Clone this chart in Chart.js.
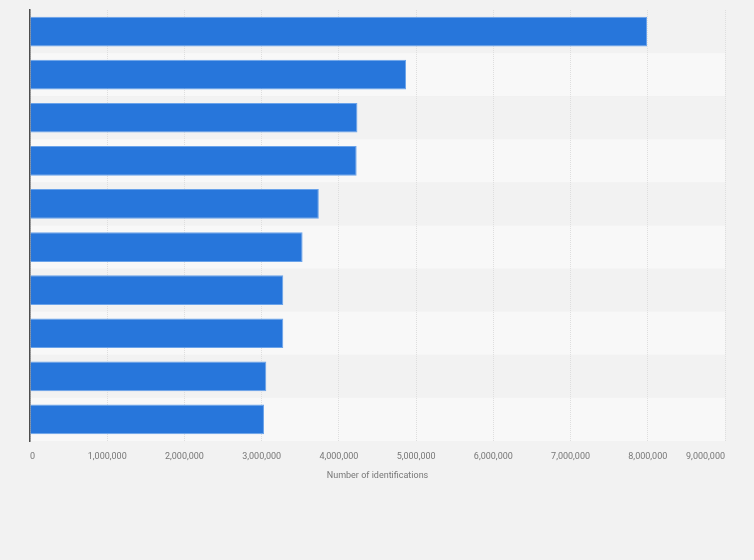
<!DOCTYPE html>
<html>
<head>
<meta charset="utf-8">
<script src="https://cdn.jsdelivr.net/npm/chart.js@4/dist/chart.umd.min.js"></script>
<style>
  html, body { margin: 0; padding: 0; background: #f2f2f2; }
  #wrap { width: 754px; height: 560px; position: relative; }
</style>
</head>
<body>
<div id="wrap"><canvas id="c" width="754" height="560"></canvas></div>
<script>
const categories = ["Item 1", "Item 2", "Item 3", "Item 4", "Item 5", "Item 6", "Item 7", "Item 8", "Item 9", "Item 10"];
const identifications = [7990000, 4870000, 4240000, 4230000, 3740000, 3530000, 3280000, 3280000, 3060000, 3030000];
const xTicks = [0, 1000000, 2000000, 3000000, 4000000, 5000000, 6000000, 7000000, 8000000, 9000000];
const xTitle = "Number of identifications";

const bandPlugin = {
  id: 'bands',
  beforeDraw(chart) {
    const { ctx, chartArea, scales } = chart;
    const y = scales.y;
    ctx.save();
    const half = (y.getPixelForValue(1) - y.getPixelForValue(0)) / 2;
    for (let i = 0; i < categories.length; i++) {
      const c = y.getPixelForValue(i);
      ctx.fillStyle = i % 2 === 0 ? '#f2f2f2' : '#f8f8f8';
      ctx.fillRect(chartArea.left, c - half, chartArea.right - chartArea.left, half * 2);
    }
    ctx.restore();
  }
};

new Chart(document.getElementById('c'), {
  type: 'bar',
  data: {
    labels: categories,
    datasets: [{
      data: identifications,
      backgroundColor: '#2776db',
      borderColor: '#6aa3ea',
      borderWidth: 1,
      barPercentage: 0.69,
      categoryPercentage: 1
    }]
  },
  plugins: [bandPlugin],
  options: {
    indexAxis: 'y',
    responsive: false,
    animation: false,
    devicePixelRatio: 1,
    layout: { padding: { left: 30, right: 29, top: 10, bottom: 0 } },
    plugins: { legend: { display: false }, tooltip: { enabled: false } },
    scales: {
      x: {
        min: 0,
        max: 9000000,
        afterBuildTicks(scale) { scale.ticks = xTicks.map(v => ({ value: v })); },
        afterFit(scale) { scale.height = 119; },
        grid: { color: '#dedede', lineWidth: 1, drawTicks: false },
        border: { display: false, dash: [1, 1] },
        ticks: {
          align: 'inner',
          padding: 10,
          color: '#777777',
          font: { family: 'Roboto', size: 9 },
          callback: v => Number(v).toLocaleString('en-US')
        },
        title: {
          display: true,
          text: xTitle,
          color: '#777777',
          font: { family: 'Roboto', size: 9 },
          padding: { top: 0, bottom: 78.6 }
        }
      },
      y: {
        afterFit(scale) { scale.width = 0; },
        ticks: { display: false },
        grid: { display: false },
        border: { display: true, color: '#4d4d4d', width: 1.5 }
      }
    }
  }
});
</script>
</body>
</html>
